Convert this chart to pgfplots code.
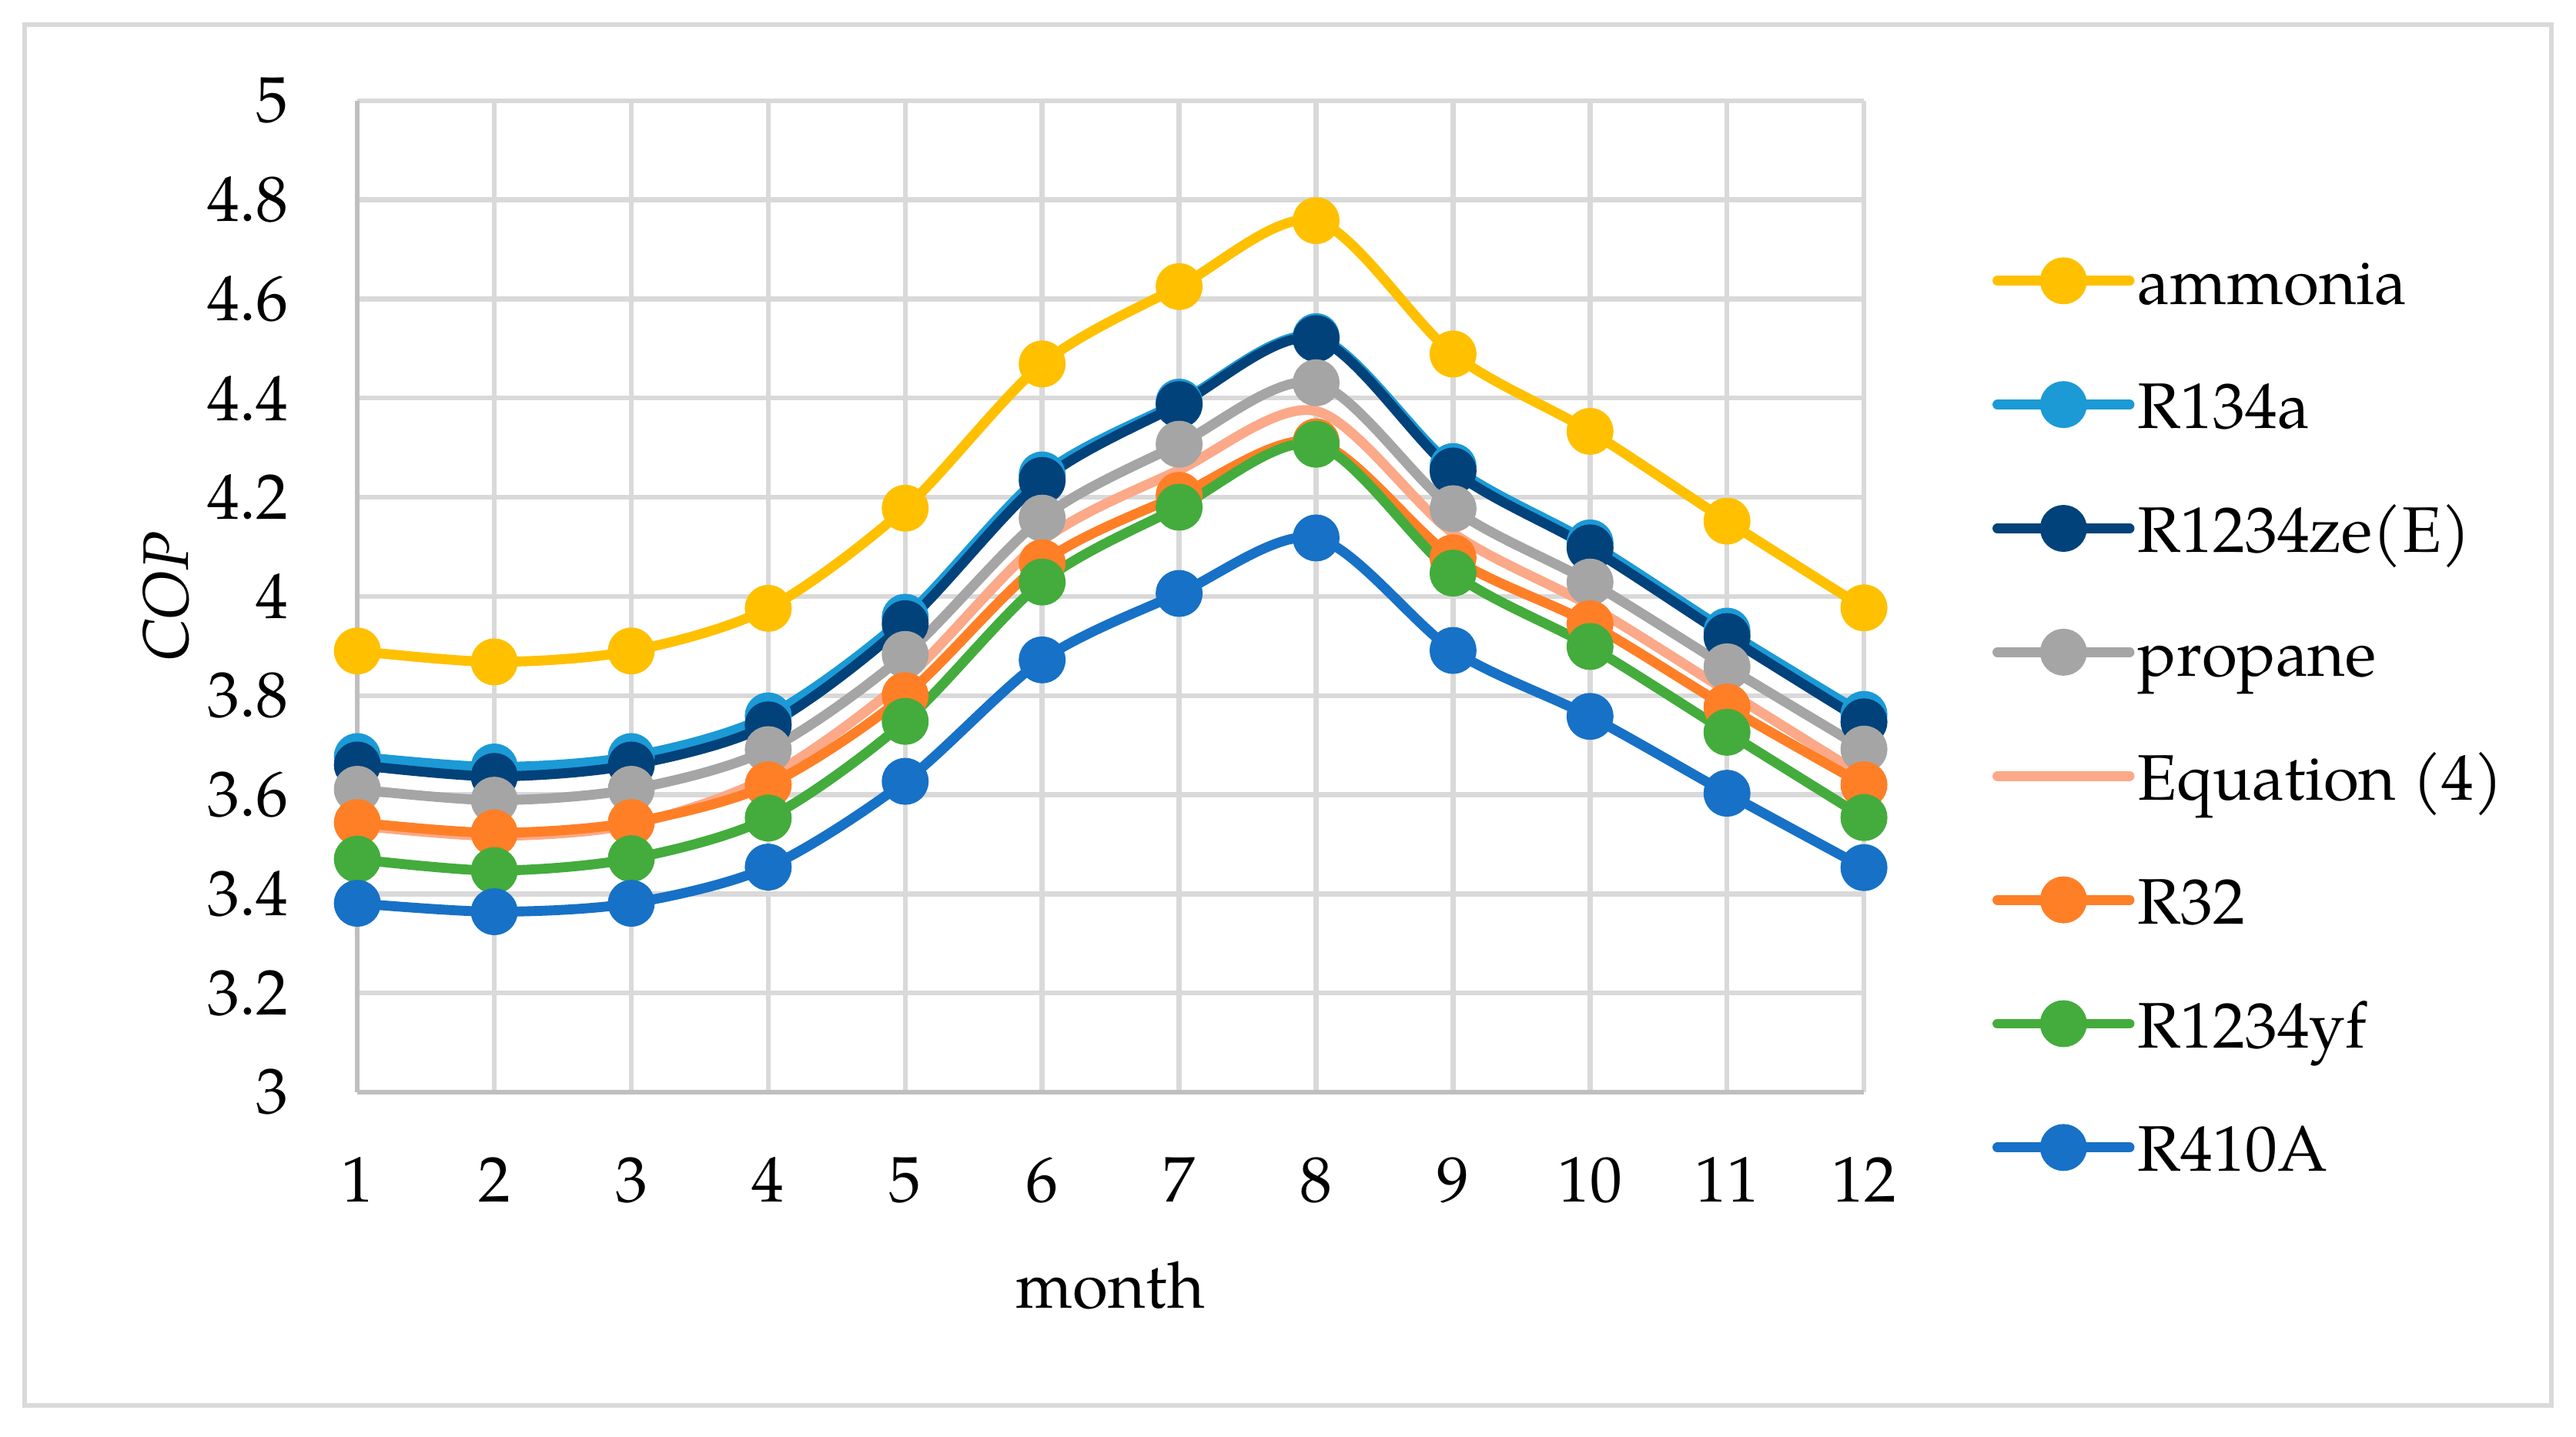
\documentclass[border=0pt]{standalone}
\usepackage{fontspec}
\setmainfont{TeX Gyre Pagella}
\usepackage{pgfplots}
\pgfplotsset{compat=1.18}
\usepackage{pgfplotstable}
\definecolor{cAmm}{HTML}{FFC000}
\definecolor{cR134}{HTML}{1B9AD6}
\definecolor{cZe}{HTML}{02427A}
\definecolor{cProp}{HTML}{A5A5A5}
\definecolor{cEq}{HTML}{FBA988}
\definecolor{cR32}{HTML}{FF7F27}
\definecolor{cYf}{HTML}{43AC3C}
\definecolor{cR410}{HTML}{1771C6}
\definecolor{gridgray}{HTML}{D9D9D9}
\definecolor{axisgray}{HTML}{BFBFBF}
\newcommand\chfont{\fontsize{19.5}{23}\selectfont}
\newcommand\lstrut{\rule[-6pt]{0pt}{22pt}}
\pgfplotstableread{
m amm r134 ze prop eq r32 yf r410
1  3.890 3.677 3.660 3.611 3.538 3.544 3.470 3.381
2  3.868 3.656 3.637 3.589 3.517 3.523 3.447 3.364
3  3.890 3.677 3.660 3.611 3.540 3.544 3.471 3.381
4  3.976 3.759 3.741 3.691 3.636 3.620 3.553 3.454
5  4.178 3.958 3.945 3.883 3.833 3.800 3.748 3.627
6  4.469 4.245 4.234 4.158 4.112 4.068 4.029 3.872
7  4.625 4.392 4.387 4.307 4.255 4.204 4.180 4.006
8  4.758 4.524 4.520 4.431 4.374 4.312 4.307 4.118
9  4.489 4.262 4.253 4.177 4.128 4.078 4.047 3.891
10 4.333 4.108 4.098 4.029 3.981 3.945 3.899 3.758
11 4.152 3.930 3.919 3.858 3.809 3.777 3.726 3.603
12 3.977 3.762 3.747 3.692 3.637 3.620 3.554 3.453
}\cop
\begin{document}
\begin{tikzpicture}
\path[use as bounding box] (0,0) rectangle (780pt,435pt);
\draw[color=gridgray, line width=1.4pt] (7.5pt,9.3pt) rectangle (772.6pt,427.5pt);
\begin{axis}[
  at={(108.2pt,104.2pt)}, anchor=south west,
  width=456.2pt, height=300.3pt, scale only axis,
  xmin=1, xmax=12, ymin=3, ymax=5,
  xtick={1,2,3,4,5,6,7,8,9,10,11,12},
  ytick={3,3.2,3.4,3.6,3.8,4,4.2,4.4,4.6,4.8,5},
  axis x line=bottom, axis y line=left,
  axis line style={-, color=axisgray, line width=1.5pt},
  major tick length=0pt,
  grid=major, major grid style={color=gridgray, line width=1.5pt},
  /pgf/number format/assume math mode=true,
  tick label style={font=\chfont},
  yticklabel style={anchor=east, inner sep=0pt, xshift=-20.8pt},
  xticklabel style={anchor=base, inner sep=0pt, yshift=-33.3pt},
  xlabel={month}, ylabel={\textit{COP}},
  label style={font=\chfont},
  xlabel style={at={(axis description cs:0.5,0)}, anchor=base, inner sep=0pt, yshift=-65.3pt},
  ylabel style={at={(axis description cs:-0.1271,0.5)}, anchor=center, inner sep=0pt},
  legend cell align=left,
  legend style={draw=none, fill=none, inner sep=0pt, outer sep=0pt,
    at={(axis description cs:1.0853,0.8475)}, anchor=north west,
    font=\chfont, row sep=20pt, column sep=1pt, nodes={inner sep=0pt}},
  legend image code/.code={\draw[mark repeat=2,mark phase=2,line cap=round,#1] plot coordinates {(0pt,0pt) (20pt,0pt) (40pt,0pt)};},
  every axis plot/.append style={line width=3pt, smooth, tension=0.5},
]
\addplot[color=cAmm, mark=*, mark size=5.6pt, mark options={draw=none, fill=cAmm}] table[x=m,y=amm]{\cop};
\addlegendentry{\lstrut ammonia}
\addplot[color=cR134, mark=*, mark size=5.6pt, mark options={draw=none, fill=cR134}] table[x=m,y=r134]{\cop};
\addlegendentry{\lstrut R134a}
\addplot[color=cZe, mark=*, mark size=5.6pt, mark options={draw=none, fill=cZe}] table[x=m,y=ze]{\cop};
\addlegendentry{\lstrut R1234ze(E)}
\addplot[color=cProp, mark=*, mark size=5.6pt, mark options={draw=none, fill=cProp}] table[x=m,y=prop]{\cop};
\addlegendentry{\lstrut propane}
\addplot[color=cEq, no markers] table[x=m,y=eq]{\cop};
\addlegendentry{\lstrut Equation (4)}
\addplot[color=cR32, mark=*, mark size=5.6pt, mark options={draw=none, fill=cR32}] table[x=m,y=r32]{\cop};
\addlegendentry{\lstrut R32}
\addplot[color=cYf, mark=*, mark size=5.6pt, mark options={draw=none, fill=cYf}] table[x=m,y=yf]{\cop};
\addlegendentry{\lstrut R1234yf}
\addplot[color=cR410, mark=*, mark size=5.6pt, mark options={draw=none, fill=cR410}] table[x=m,y=r410]{\cop};
\addlegendentry{\lstrut R410A}
\end{axis}
\end{tikzpicture}
\end{document}
